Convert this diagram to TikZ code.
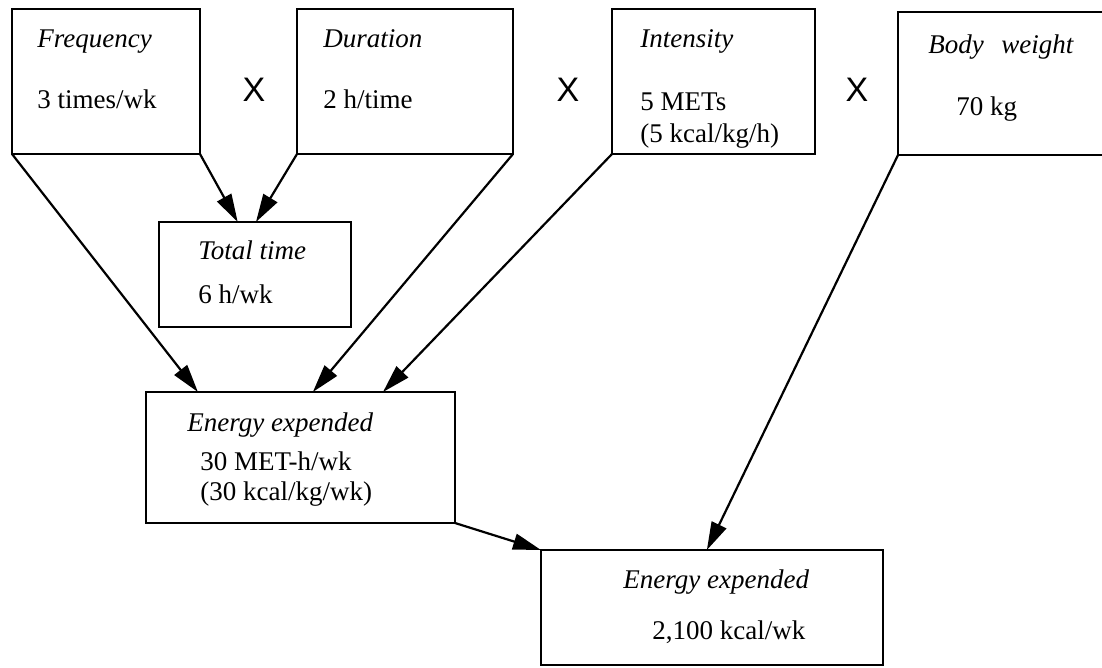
\documentclass[tikz,border=0pt]{standalone}
\usepackage{fontspec}
\setmainfont{Liberation Serif}
\newfontfamily\xfont{Liberation Sans}
\usetikzlibrary{arrows.meta,calc}

\tikzset{
  box/.style={draw, line width=1.4pt, inner sep=0pt, outer sep=0pt},
  lbl/.style={anchor=west, inner sep=0pt, text height=9pt, text depth=3pt, font=\fontsize{13.5}{16}\selectfont},
  ttl/.style={lbl, font=\fontsize{13.5}{16}\selectfont\itshape},
  times/.style={inner sep=0pt, font=\xfont\fontsize{17}{20}\selectfont},
  link/.style={line width=1.1pt, -{Triangle[length=14pt,width=8pt]}}
}

\begin{document}
\begin{tikzpicture}[x=0.5pt, y=-0.5pt]
    \useasboundingbox (0,0) rectangle (1102,668);

    \node[box, minimum width=94pt, minimum height=72.5pt] (fq) at (106,81.5) {};
    \node[box, minimum width=108pt, minimum height=72.5pt] (du) at (405,81.5) {};
    \node[box, minimum width=101.5pt, minimum height=72.5pt] (in) at (713.5,81.5) {};
    \node[box, minimum width=105pt, minimum height=71.5pt] (bw) at (1003,83.5) {};
    \node[box, minimum width=96pt, minimum height=52.5pt] (tt) at (255,274.5) {};
    \node[box, minimum width=154.5pt, minimum height=65.5pt] (e1) at (300.5,457.5) {};
    \node[box, minimum width=171pt, minimum height=57.5pt] (e2) at (712,607.5) {};

    \node[ttl] (fqT) at (37,42) {Frequency};
    \node[lbl] (fqV) at (37,103) {3 times/wk};
    \node[ttl] (duT) at (323,42) {Duration};
    \node[lbl] (duV) at (323,103) {2 h/time};
    \node[ttl] (inT) at (640,42) {Intensity};
    \node[lbl] (inV) at (640,105) {5 METs};
    \node[lbl] (inW) at (640,137) {(5 kcal/kg/h)};
    \node[ttl] (bwT) at (928,48) {Body\hspace{0.4em} weight};
    \node[lbl] (bwV) at (956,110) {70 kg};
    \node[ttl] (ttT) at (198,253) {Total time};
    \node[lbl] (ttV) at (198,297) {6 h/wk};
    \node[ttl] (e1T) at (187,425) {Energy expended};
    \node[lbl] (e1V) at (200,464) {30 MET-h/wk};
    \node[lbl] (e1W) at (200,494) {(30 kcal/kg/wk)};
    \node[ttl] (e2T) at (623,582) {Energy expended};
    \node[lbl] (e2V) at (652,633) {2,100 kcal/wk};

    \node[times] (x1) at (254,90) {X};
    \node[times] (x2) at (568,90) {X};
    \node[times] (x3) at (857,90) {X};

    \draw[link] (fq.south west) -- ($(e1.north west)!0.168!(e1.north east)$);
    \draw[link] (fq.south east) -- ($(tt.north west)!0.41!(tt.north east)$);
    \draw[link] (du.south west) -- ($(tt.north west)!0.505!(tt.north east)$);
    \draw[link] (du.south east) -- ($(e1.north west)!0.54!(e1.north east)$);
    \draw[link] (in.south west) -- ($(e1.north west)!0.767!(e1.north east)$);
    \draw[link] (bw.south west) -- ($(e2.north west)!0.485!(e2.north east)$);
    \draw[link] (e1.south east) -- (e2.north west);
\end{tikzpicture}
\end{document}
